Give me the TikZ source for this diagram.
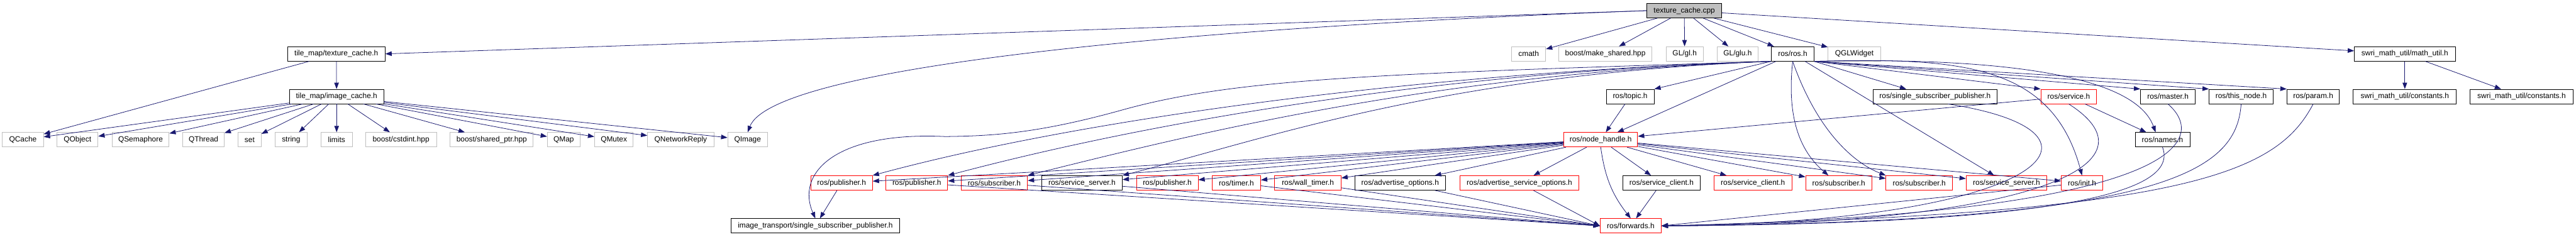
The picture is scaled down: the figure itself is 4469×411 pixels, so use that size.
\documentclass[tikz,border=0pt]{standalone}
\usepackage{fontspec}
\setmainfont{Liberation Sans}
\usetikzlibrary{arrows.meta,calc}
\definecolor{edgeBlue}{HTML}{191970}
\definecolor{extGray}{HTML}{BFBFBF}
\definecolor{truncRed}{HTML}{FF0000}
\definecolor{rootGray}{HTML}{BFBFBF}

\begin{document}
\begin{tikzpicture}[x=1pt,y=-1pt,
  hdr/.style={draw,rectangle,line width=1pt,minimum height=25pt,inner xsep=2pt,
    inner ysep=0pt,font=\fontsize{13}{15}\selectfont},
  hdrdoc/.style={hdr,draw=black},
  hdrext/.style={hdr,draw=extGray},
  hdrred/.style={hdr,draw=truncRed},
  hdrroot/.style={hdr,draw=black,fill=rootGray},
  dep/.style={draw=edgeBlue,line width=0.85pt,-{Triangle[length=11pt,width=8pt]}}
]
\useasboundingbox (0,0) rectangle (4469,411);
% row 1
\node[hdrroot,minimum width=130pt] (cpp) at (2922,18.5) {texture\_cache.cpp};
% row 2
\node[hdrdoc,minimum width=169pt] (texcache) at (583.5,93.5) {tile\_map/texture\_cache.h};
\node[hdrext,minimum width=59pt] (cmath) at (2652,93.5) {cmath};
\node[hdrext,minimum width=162pt] (makeshared) at (2785,93.5) {boost/make\_shared.hpp};
\node[hdrext,minimum width=64pt] (glh) at (2922.6,93.5) {GL/gl.h};
\node[hdrext,minimum width=71pt] (gluh) at (3014.5,93.5) {GL/glu.h};
\node[hdrdoc,minimum width=74pt] (rosh) at (3110,93.5) {ros/ros.h};
\node[hdrext,minimum width=91pt] (qglwidget) at (3217,93.5) {QGLWidget};
\node[hdrdoc,minimum width=175pt] (mathutil) at (4172,93.5) {swri\_math\_util/math\_util.h};
% row 3
\node[hdrdoc,minimum width=163pt] (imgcache) at (584,167.5) {tile\_map/image\_cache.h};
\node[hdrdoc,minimum width=83pt] (topic) at (2828,167.5) {ros/topic.h};
\node[hdrdoc,minimum width=215pt] (rosssp) at (3357,167.5) {ros/single\_subscriber\_publisher.h};
\node[hdrred,minimum width=97pt] (service) at (3589,167.5) {ros/service.h};
\node[hdrdoc,minimum width=95pt] (master) at (3761,167.5) {ros/master.h};
\node[hdrdoc,minimum width=111pt] (thisnode) at (3888,167.5) {ros/this\_node.h};
\node[hdrdoc,minimum width=91pt] (param) at (4013,167.5) {ros/param.h};
\node[hdrdoc,minimum width=179pt] (constA) at (4172,167.5) {swri\_math\_util/constants.h};
\node[hdrdoc,minimum width=179pt] (constB) at (4374.5,167.5) {swri\_math\_util/constants.h};
% row 4
\node[hdrext,minimum width=71pt] (qcache) at (39.8,242.5) {QCache};
\node[hdrext,minimum width=71pt] (qobject) at (134.5,242.5) {QObject};
\node[hdrext,minimum width=99pt] (qsemaphore) at (243.8,242.5) {QSemaphore};
\node[hdrext,minimum width=72pt] (qthread) at (353,242.5) {QThread};
\node[hdrext,minimum width=40pt] (set) at (433,242.5) {set};
\node[hdrext,minimum width=55pt] (string) at (505,242.5) {string};
\node[hdrext,minimum width=54pt] (limits) at (584,242.5) {limits};
\node[hdrext,minimum width=123pt] (cstdint) at (695.7,242.5) {boost/cstdint.hpp};
\node[hdrext,minimum width=144pt] (sharedptr) at (853,242.5) {boost/shared\_ptr.hpp};
\node[hdrext,minimum width=57pt] (qmap) at (978,242.5) {QMap};
\node[hdrext,minimum width=67pt] (qmutex) at (1065,242.5) {QMutex};
\node[hdrext,minimum width=115pt] (qnetreply) at (1181,242.5) {QNetworkReply};
\node[hdrext,minimum width=69pt] (qimage) at (1297,242.5) {QImage};
\node[hdrred,minimum width=128pt] (nodehandle) at (2777,242.5) {ros/node\_handle.h};
\node[hdrdoc,minimum width=95pt] (names) at (3751.6,242.5) {ros/names.h};
% row 5
\node[hdrred,minimum width=107pt] (pubA) at (1460,317.5) {ros/publisher.h};
\node[hdrred,minimum width=107pt] (pubB) at (1590.5,317.5) {ros/publisher.h};
\node[hdrred,minimum width=115pt] (subA) at (1725,317.5) {ros/subscriber.h};
\node[hdrdoc,minimum width=140pt] (srvserverA) at (1877,317.5) {ros/service\_server.h};
\node[hdrred,minimum width=107pt] (pubC) at (2025,317.5) {ros/publisher.h};
\node[hdrred,minimum width=84pt] (timer) at (2145,317.5) {ros/timer.h};
\node[hdrred,minimum width=115pt] (walltimer) at (2269,317.5) {ros/wall\_timer.h};
\node[hdrdoc,minimum width=157pt] (advopt) at (2429,317.5) {ros/advertise\_options.h};
\node[hdrred,minimum width=207pt] (advsrvopt) at (2636,317.5) {ros/advertise\_service\_options.h};
\node[hdrdoc,minimum width=135pt] (srvclientA) at (2882.5,317.5) {ros/service\_client.h};
\node[hdrred,minimum width=135pt] (srvclientB) at (3041,317.5) {ros/service\_client.h};
\node[hdrred,minimum width=115pt] (subB) at (3190,317.5) {ros/subscriber.h};
\node[hdrred,minimum width=115pt] (subC) at (3329.5,317.5) {ros/subscriber.h};
\node[hdrred,minimum width=140pt] (srvserverB) at (3481,317.5) {ros/service\_server.h};
\node[hdrred,minimum width=72pt] (init) at (3612,317.5) {ros/init.h};
% row 6
\node[hdrdoc,minimum width=292pt] (itssp) at (1414.5,392) {image\_transport/single\_subscriber\_publisher.h};
\node[hdrred,minimum width=106pt] (forwards) at (2829,392) {ros/forwards.h};

% texture_cache.cpp
\draw[dep] (cpp.west) -- (texcache.east);
\draw[dep] (cpp.west) .. controls (2000,50) and (1340,120) .. (qimage.north);
\draw[dep] (cpp) -- (cmath); \draw[dep] (cpp) -- (makeshared); \draw[dep] (cpp) -- (glh);
\draw[dep] (cpp) -- (gluh); \draw[dep] (cpp) -- (rosh); \draw[dep] (cpp) -- (qglwidget);
\draw[dep] (cpp) -- (mathutil);
% tile_map headers
\draw[dep] (texcache) -- (imgcache); \draw[dep] (texcache) -- (qcache);
\draw[dep] (imgcache) -- (qcache); \draw[dep] (imgcache) -- (qobject);
\draw[dep] (imgcache) -- (qsemaphore); \draw[dep] (imgcache) -- (qthread);
\draw[dep] (imgcache) -- (set); \draw[dep] (imgcache) -- (string);
\draw[dep] (imgcache) -- (limits); \draw[dep] (imgcache) -- (cstdint);
\draw[dep] (imgcache) -- (sharedptr); \draw[dep] (imgcache) -- (qmap);
\draw[dep] (imgcache) -- (qmutex); \draw[dep] (imgcache) -- (qnetreply);
\draw[dep] (imgcache) -- (qimage);
% swri_math_util
\draw[dep] (mathutil) -- (constA); \draw[dep] (mathutil) -- (constB);
% ros/ros.h
\draw[dep] (rosh.south west) -- (topic.north east); \draw[dep] (rosh) -- (nodehandle);
\draw[dep] (rosh.south east) -- ($(rosssp.north)+(-50,0)$);
\draw[dep] (rosh.south east) -- (service.north west);
\draw[dep] (rosh.south east) -- (master.north west);
\draw[dep] (rosh.south east) -- (thisnode.north west);
\draw[dep] (rosh.south east) -- (param.north west);
\draw[dep] (rosh) -- (srvserverB);
\draw[dep] (rosh.south east) .. controls (3420,100) and (3700,120) .. ($(names.north)+(-12,0)$);
\draw[dep] (rosh.south east) .. controls (3400,100) and (3560,110) .. (init.north);
\draw[dep] (rosh.south) .. controls (3100,200) and (3120,260) .. ($(subB.north)+(-18,0)$);
\draw[dep] (rosh.south) .. controls (3150,220) and (3210,280) .. (subC.north west);
\draw[dep] (rosh.south west) .. controls (2500,125) and (1900,200) .. (pubA.north east);
\draw[dep] (rosh.south west) .. controls (2500,125) and (2000,210) .. (pubB.north east);
\draw[dep] (rosh.south west) .. controls (2500,128) and (2100,225) .. (subA.north east);
\draw[dep] (rosh.south west) .. controls (2500,130) and (2200,240) .. (srvserverA.north east);
\draw[dep] (rosh.south west) .. controls (2400,128) and (2150,135) .. (1950,190)
  .. controls (1800,232) and (1720,236) .. (1640,237)
  .. controls (1450,228) and (1380,300) .. (itssp.north);
% topic, service
\draw[dep] (topic) -- (nodehandle);
\draw[dep] (service) -- (nodehandle); \draw[dep] (service) -- (names);
% ros/node_handle.h
\draw[dep] (nodehandle) -- (pubA); \draw[dep] (nodehandle) -- (pubB);
\draw[dep] (nodehandle) -- (subA); \draw[dep] (nodehandle) -- (srvserverA);
\draw[dep] (nodehandle) -- (pubC); \draw[dep] (nodehandle) -- (timer);
\draw[dep] (nodehandle) -- (walltimer); \draw[dep] (nodehandle) -- (advopt);
\draw[dep] (nodehandle) -- (advsrvopt); \draw[dep] (nodehandle) -- (srvclientA);
\draw[dep] (nodehandle) -- (srvclientB); \draw[dep] (nodehandle) -- (subB);
\draw[dep] (nodehandle) -- (subC); \draw[dep] (nodehandle) -- (srvserverB);
\draw[dep] (nodehandle) -- (init);
\draw[dep] (nodehandle.south) to[bend right=15] (forwards.north);
% into image_transport
\draw[dep] (pubA) -- (itssp);
% into ros/forwards.h from the left
\draw[dep] (pubB) -- (forwards.west); \draw[dep] (subA) -- (forwards.west);
\draw[dep] (srvserverA) -- (forwards.west); \draw[dep] (timer) -- (forwards.west);
\draw[dep] (walltimer) -- (forwards.west); \draw[dep] (advopt) -- (forwards.west);
\draw[dep] (advsrvopt) -- (forwards.west); \draw[dep] (srvclientA) -- (forwards);
% into ros/forwards.h from the right
\draw[dep] (init) -- (forwards.east);
\draw[dep] (rosssp.-30) .. controls (3700,230) and (3550,385) .. (forwards.east);
\draw[dep] (service.south) .. controls (3760,290) and (3500,390) .. (forwards.east);
\draw[dep] (names.south) .. controls (3780,330) and (3600,388) .. (forwards.east);
\draw[dep] (master.south) .. controls (3830,240) and (3800,370) .. (forwards.east);
\draw[dep] (thisnode.south) .. controls (3880,300) and (3750,385) .. (forwards.east);
\draw[dep] (param.south) .. controls (3950,300) and (3800,370) .. (forwards.east);
\end{tikzpicture}
\end{document}
